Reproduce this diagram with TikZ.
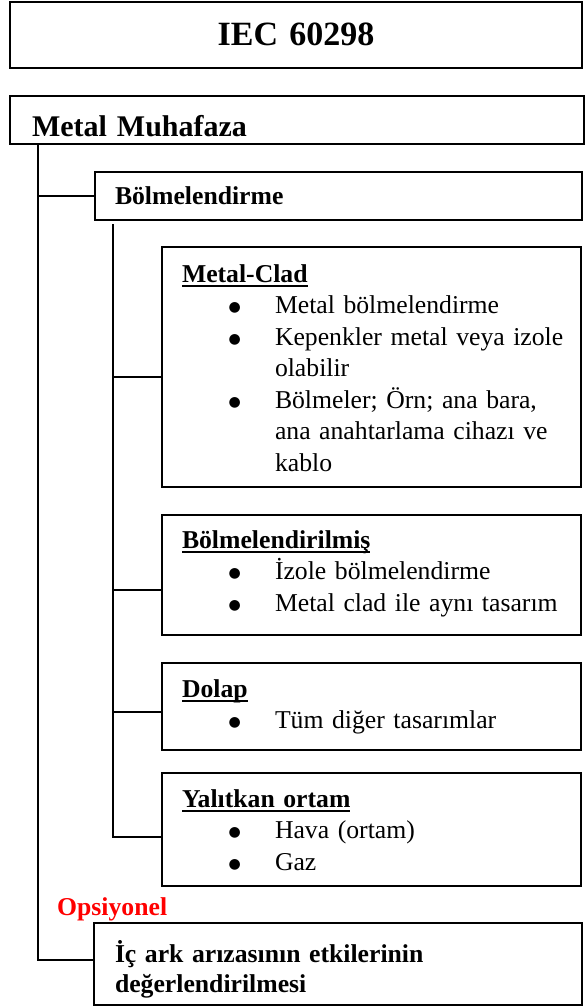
\documentclass[tikz,border=0pt]{standalone}
\usepackage{fontspec}
\setmainfont[WordSpace=0.75]{Liberation Serif}
\newfontfamily\dotfont{DejaVu Sans}
\usepackage{tikz}
\usetikzlibrary{positioning}
\newcommand\undl[1]{\setbox0\hbox{#1}\rlap{\rule[-5pt]{\wd0}{2.2pt}}\box0}
\newcommand\bitem[1]{\makebox[93pt][l]{\hspace*{46.5pt}\raisebox{1.7pt}{\dotfont\fontsize{14}{0}\selectfont ●}}\mbox{#1}}
\newcommand\bcont[1]{\hspace*{93pt}\mbox{#1}}
\tikzset{
  frame/.style={draw,line width=2pt,outer sep=0pt,inner ysep=0pt,inner xsep=20pt,align=left,font=\fontsize{25.7}{31.5}\selectfont},
  link/.style={line width=2pt},
  optlabel/.style={text=red,font=\fontsize{25.7}{30}\selectfont\bfseries,inner sep=0pt}
}
\begin{document}
\begin{tikzpicture}[x=1pt,y=-1pt]
  \useasboundingbox (0,0) rectangle (587,1007);
  \node[frame,anchor=north west,align=center,text width=532pt,text height=43pt,text depth=23pt,font=\fontsize{34}{40}\selectfont\bfseries] (iec) at (10,2) {IEC 60298};
  \node[frame,below right=28pt and 0pt of iec.south west,inner xsep=22pt,text width=530pt,text height=40pt,text depth=8pt,font=\fontsize{30}{36}\selectfont\bfseries] (metal) {Metal Muhafaza};
  \node[frame,below right=28pt and 85pt of metal.south west,text width=447pt,text height=32pt,text depth=16pt] (bolme) {\textbf{Bölmelendirme}};
  \node[frame,below right=27pt and 67pt of bolme.south west,text width=379pt,text height=35pt,text depth=205pt] (mclad)
    {\undl{\textbf{Metal-Clad}}\\
     \bitem{Metal bölmelendirme}\\
     \bitem{Kepenkler metal veya izole}\\
     \bcont{olabilir}\\
     \bitem{Bölmeler; Örn; ana bara,}\\
     \bcont{ana anahtarlama cihazı ve}\\
     \bcont{kablo}};
  \node[frame,below right=28pt and 0pt of mclad.south west,text width=379pt,text height=33pt,text depth=87pt] (bolmis)
    {\undl{\textbf{Bölmelendirilmiş}}\\
     \bitem{İzole bölmelendirme}\\
     \bitem{Metal clad ile aynı tasarım}};
  \node[frame,below right=28pt and 0pt of bolmis.south west,text width=379pt,text height=34pt,text depth=53pt] (dolap)
    {\undl{\textbf{Dolap}}\\
     \bitem{Tüm diğer tasarımlar}};
  \node[frame,below right=23pt and 0pt of dolap.south west,text width=379pt,text height=34pt,text depth=79pt] (yalit)
    {\undl{\textbf{Yalıtkan ortam}}\\
     \bitem{Hava (ortam)}\\
     \bitem{Gaz}};
  \node[optlabel,anchor=base west] (opsi) at (57,915) {Opsiyonel};
  \node[frame,anchor=north west,inner xsep=21pt,text width=446pt,text height=39pt,text depth=43pt,font=\fontsize{25.7}{30}\selectfont\bfseries] (icark) at (94,923)
    {İç ark arızasının etkilerinin\\değerlendirilmesi};
  % tree lines
  \coordinate (spine) at ([xshift=28pt]metal.south west);
  \draw[link] (spine) |- (bolme.west);
  \draw[link] (spine) |- ([yshift=4pt]icark.west);
  \coordinate (trunk) at ([xshift=18pt,yshift=-4pt]bolme.south west);
  \foreach \sub/\dy in {mclad/-10pt,bolmis/-15pt,dolap/-5.5pt,yalit/-7.5pt}
    \draw[link] (trunk) |- ([yshift=\dy]\sub.west);
\end{tikzpicture}
\end{document}
